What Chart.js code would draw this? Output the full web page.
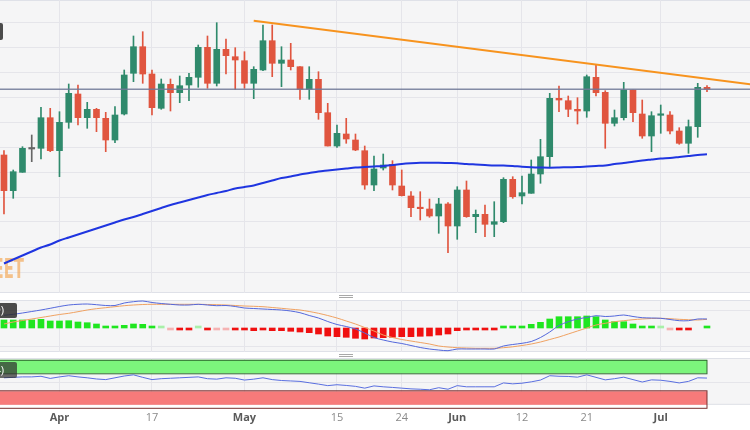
<!DOCTYPE html>
<html>
<head>
<meta charset="utf-8">
<script src="https://cdn.jsdelivr.net/npm/chart.js@4.4.0/dist/chart.umd.min.js"></script>
<style>
  html, body { margin: 0; padding: 0; background: #fff; }
  #wrap { position: relative; width: 750px; height: 430px; overflow: hidden; }
  .pane { position: absolute; left: 0; width: 750px; }
  .grip { position: absolute; left: 339px; width: 14px; height: 1px; background: #a8a8a8; }
</style>
</head>
<body>
<div id="wrap">
  <div class="pane" style="top:0"><canvas id="main" width="750" height="293"></canvas></div>
  <div class="grip" style="top:295px"></div><div class="grip" style="top:297px"></div>
  <div class="pane" style="top:300px"><canvas id="macd" width="750" height="52"></canvas></div>
  <div class="grip" style="top:354px"></div><div class="grip" style="top:356px"></div>
  <div class="pane" style="top:358px"><canvas id="rsi" width="750" height="72"></canvas></div>
</div>
<script>
// jours de cotation (mar 24 -> jul 10)
const dates = [
  "03-24","03-27","03-28","03-29","03-30","03-31",
  "04-03","04-04","04-05","04-06","04-07","04-10","04-11","04-12","04-13","04-14",
  "04-17","04-18","04-19","04-20","04-21","04-24","04-25","04-26","04-27","04-28",
  "05-01","05-02","05-03","05-04","05-05","05-08","05-09","05-10","05-11","05-12",
  "05-15","05-16","05-17","05-18","05-19","05-22","05-23","05-24","05-25","05-26",
  "05-29","05-30","05-31",
  "06-01","06-02","06-05","06-06","06-07","06-08","06-09","06-12","06-13","06-14",
  "06-15","06-16","06-19","06-20","06-21","06-22","06-23","06-26","06-27","06-28",
  "06-29","06-30",
  "07-03","07-04","07-05","07-06","07-07","07-10"
];

// ticks de l'axe x (index dans dates)
const tickIdx  = [6, 16, 26, 36, 43, 49, 56, 63, 71];
const tickText = ["Apr", "17", "May", "15", "24", "Jun", "12", "21", "Jul"];

// bougies (unités de prix)
const open = [142,106.3,124.7,148,148.7,179.3,146.3,174.7,203,179.3,
  187.7,178.7,157,183,223.7,250.3,223,188.7,212.7,204.3,
  212,219.7,249.7,213.7,247.7,240.3,236.3,213.7,227,256.3,
  233.7,237,230.3,207.7,217.7,184.3,151,163,157,146.3,
  112,129,132.7,111,101,89,88,81,93,71,
  107,80.3,82.7,72.7,75.3,117.7,101,103.7,123,140.3,
  198.7,196.3,187.7,186,219.7,204.7,173.7,179.3,207,183,
  161,181.7,182,166,153.7,170.3,209.7];
const high = [146.3,127,150.3,162,189.7,188.7,185.3,213,212,194.7,
  188.7,184.7,190.3,227,261,265.3,227,218,218,221,
  223.7,252,261,274.3,258,249.3,245.3,230.3,272,272,
  250.3,253.7,230.3,230.3,225.3,193.7,172,178.7,163,151,
  141,143,136.3,127,105.3,105.3,98,98.7,94.3,110.3,
  116,87,92,95.3,119.3,120.3,121,137,157.7,203.7,
  211,201,199.3,222,232,206.3,187,214.7,207,197,
  185.3,192,185.3,169.3,177,213.7,211.3];
const low = [83,98.7,124.7,135.3,138,145.3,120.3,168.7,172,168.7,
  165.3,145.3,154.3,182,215.3,213.7,182,187.7,186,194.3,
  196.3,209.7,208.7,211,223,207.7,208.7,198.3,226.3,220.3,
  210.3,227,197.7,197.7,177.7,151,149.7,153.7,146.3,107.7,
  106.3,127,107,101,80.3,77,79.7,63.7,44.3,57.7,
  79.7,64.3,60.3,60.3,74.3,98.7,93,103.7,113.7,130.3,
  185.3,180.3,173,179.7,201,148.7,171,177,175.3,158.7,
  145.3,163.7,163,152.7,143.7,159.7,205.3];
const close = [106.3,125.3,148.7,148,179.3,146.3,174.7,203.7,179.3,187.7,
  179.3,157,182,222,250.3,223,189.3,213,204.3,211.3,
  219.7,249.7,213.7,247.7,241.3,237,213.7,227.7,256.3,233.7,
  237,230.3,207.7,217.7,184.3,151,163.7,158,147,112,
  128,132,112,101.3,89.3,88.3,81,93,71,107,
  80.3,82.7,72.7,75.3,117.7,100.3,104.3,123,140.3,198.7,
  197,187.7,186,220.3,204.3,173.7,179.3,207,184.3,161,
  181.3,182.3,166,153.7,170.3,209.7,207.7];

// moyenne mobile (ligne bleue)
const ma = [33.5,37.5,41.5,45.5,49.5,52.5,56.5,59.5,62.5,65.5,
  68.5,71.5,74.5,77.5,80,83,86,89,92,94.5,
  97,99.5,102,104,106,108.5,110,111.5,114,116.5,
  119,120.5,122.5,124,125.5,126.5,127.5,128.5,129.5,130,
  130.5,131,132,133,133.7,134.2,134.3,134.3,134,133.7,
  133,132.5,132,131.5,131.5,131,130.3,129.8,129.5,129.3,
  129.5,129.8,130,130.5,131,131.5,133,134,135.3,136.5,
  137.5,138.5,139,140,141,142,142.7];

// ligne de tendance (orange)
const trendX = [27, 81];
const trendY = [276.3, 212.3];

// MACD
const macdLine = [12.7,13.7,15,16.5,18,19.7,21.5,23,23.7,24,
  23.3,22.5,22.5,25,26.3,27,25.5,24.5,23.7,23,
  23,23.7,23,22.3,22.5,21.5,20,19.5,19,18.5,
  18,17,15.3,12.5,10,6.5,3.5,1.5,-1,-5,
  -9.5,-12,-14,-15.5,-17.5,-19.5,-21,-22,-22.7,-21,
  -21,-21,-21,-21,-18,-16.5,-15.3,-13.5,-9.5,-4,
  2.5,6.3,9,10.5,12.3,11.5,12,13,11.5,10.3,
  10,9.7,8.5,7.3,7.3,9,9];
const signalLine = [4,6,7.5,9,10.5,12,13.5,14.7,16.3,18,
  19.3,20.3,21.3,22.3,23,23.5,23.7,23.7,23.7,23.7,
  23.7,23.7,23.5,23.3,23,22.5,22,21.7,21.3,20.5,
  19.7,18.8,18,16.5,14.7,12.5,10,7,4,0.5,
  -3,-7,-9.5,-11.5,-13,-14.5,-16,-18,-19,-19.7,
  -20,-20.3,-20.3,-20.3,-19.7,-18.8,-17.5,-16,-14,-11.5,
  -9,-6,-3,0,3,4.7,6.3,7.3,8.3,9,
  9.5,9.7,9.3,8.7,8.3,8,8.7];
const histo = [8,8,8,8,8.7,7,7,7.3,6,5.3,
  4,2,2,2.7,4,3.7,1.3,0.4,-0.3,-0.7,
  -0.7,0.3,-0.7,-0.3,-0.3,-0.7,-2,-2.7,-2,-2.7,
  -2.7,-3.3,-4,-4.7,-6,-8,-8.7,-9.3,-10.3,-11,
  -10,-9.7,-9.3,-8.7,-8.7,-8.3,-8,-7,-6,-2.7,
  -2,-1.3,-1.3,-1,0.7,0.7,2,3.7,5.7,9,
  11.3,11.3,11.3,12,11.3,8,6.3,6.3,4,1.3,
  0.7,0.3,-0.3,-1,-1,0,0.7];

// RSI
const rsi = [60,61,62,62,63.4,58.6,62,64.6,62,60,
  57.4,56,60,64,66.6,61,56,58,59,60,
  61,62,58,57,60,59,55,57,60,56,
  54,53,52,49,46,42.6,44.6,43,41,37,
  42,40,38.6,37,35.4,34.6,33.4,38,34.6,42.6,
  40,40,40,40,48.6,46.6,48,51,55,64.6,
  63.4,63,61.4,66.6,61,55.4,58,61.4,56,50.6,
  55.4,54.6,52,48.6,52,60,59.4];
const rsiBands = [30, 70];

// couleurs
const UP = "#2f8a6c", DOWN = "#e0553f", FLAT = "#666666";
const PANEL_BG = "#f5f5f6", GRID = "#e5e5ea";
const X_MIN = -0.43, X_MAX = 80.65;

Chart.defaults.font.family = "'Open Sans', Roboto, sans-serif";

const candleColors = open.map((o, i) => close[i] > o ? UP : (close[i] < o ? DOWN : FLAT));

function xAxis(showTicks) {
    return {
        type: "linear", min: X_MIN, max: X_MAX, offset: false,
        afterBuildTicks: s => { s.ticks = tickIdx.map(v => ({ value: v })); },
        grid: { color: GRID, drawTicks: false, offset: false },
        border: { display: false },
        ticks: {
            display: showTicks, padding: 6, autoSkip: false, maxRotation: 0,
            callback: v => tickText[tickIdx.indexOf(v)],
            color: c => /[a-z]/i.test(tickText[c.index]) ? "#5a5a5a" : "#8a8a8a",
            font: c => ({ size: 11, weight: /[a-z]/i.test(tickText[c.index]) ? "bold" : "normal" })
        }
    };
}

function yAxis(min, max, gridVals) {
    return {
        min: min, max: max,
        afterBuildTicks: s => { s.ticks = gridVals.map(v => ({ value: v })); },
        ticks: { display: false },
        grid: { color: GRID, drawTicks: false },
        border: { display: false }
    };
}

// fond gris des panneaux + bordures
const panelBg = {
    id: "panelBg",
    beforeDraw(chart) {
        const { ctx, chartArea: a } = chart;
        ctx.save();
        ctx.fillStyle = PANEL_BG;
        ctx.fillRect(a.left, a.top, a.right - a.left, a.bottom - a.top);
        ctx.strokeStyle = "#dfe1e8";
        ctx.lineWidth = 1;
        ctx.beginPath();
        ctx.moveTo(a.left, a.top + 0.5); ctx.lineTo(a.right, a.top + 0.5);
        ctx.moveTo(a.left, a.bottom - 0.5); ctx.lineTo(a.right, a.bottom - 0.5);
        ctx.stroke();
        ctx.restore();
    }
};

// petite étiquette sombre (coupée à gauche)
function labelBox(y, h, text, alpha) {
    return {
        id: "labelBox",
        afterDraw(chart) {
            const ctx = chart.ctx;
            ctx.save();
            ctx.fillStyle = "rgba(45,45,45," + alpha + ")";
            ctx.beginPath();
            ctx.roundRect(-90, y, text ? 107 : 93, h, 2);
            ctx.fill();
            if (text) {
                ctx.fillStyle = "#ffffff";
                ctx.font = "11px 'Open Sans', sans-serif";
                ctx.textAlign = "right";
                ctx.textBaseline = "middle";
                ctx.fillText(text, 4, y + h / 2 + 0.5);
            }
            ctx.restore();
        }
    };
}

const mainExtras = {
    id: "mainExtras",
    beforeDatasetsDraw(chart) {
        // filigrane
        const ctx = chart.ctx;
        ctx.save();
        ctx.fillStyle = "rgba(243,165,80,0.65)";
        ctx.font = "900 27px 'DejaVu Sans', sans-serif";
        ctx.textBaseline = "alphabetic";
        const w = ctx.measureText("FXSTREET").width;
        ctx.translate(24, 278);
        ctx.scale(0.55, 1);
        ctx.fillText("FXSTREET", -w, 0);
        ctx.restore();
    },
    afterDatasetsDraw(chart) {
        // ligne du dernier prix
        const { ctx, chartArea: a, scales } = chart;
        const y = scales.y.getPixelForValue(close[close.length - 1]);
        ctx.save();
        ctx.strokeStyle = "rgba(110,120,150,0.85)";
        ctx.lineWidth = 1.5;
        ctx.beginPath();
        ctx.moveTo(a.left, y); ctx.lineTo(a.right, y);
        ctx.stroke();
        ctx.restore();
    }
};

new Chart(document.getElementById("main"), {
    type: "bar",
    data: {
        datasets: [
            {
                type: "line", label: "Trend", order: 1,
                data: trendX.map((x, i) => ({ x: x, y: trendY[i] })),
                borderColor: "#f7931e", borderWidth: 2, pointRadius: 0
            },
            {
                type: "line", label: "SMA", order: 2,
                data: ma.map((v, i) => ({ x: i, y: v })),
                borderColor: "#1f35e0", borderWidth: 2, pointRadius: 0, tension: 0.3
            },
            {
                label: "Body", order: 3, grouped: false,
                data: open.map((o, i) => ({ x: i, y: [Math.min(o, close[i]), Math.max(o, close[i])] })),
                backgroundColor: candleColors, barThickness: 6, minBarLength: 1.5, borderWidth: 0
            },
            {
                label: "Wick", order: 4, grouped: false,
                data: low.map((l, i) => ({ x: i, y: [l, high[i]] })),
                backgroundColor: candleColors, barThickness: 1, borderWidth: 0
            }
        ]
    },
    options: {
        responsive: false, animation: false,
        plugins: { legend: { display: false }, tooltip: { enabled: false } },
        scales: {
            x: xAxis(false),
            y: yAxis(4, 297, [25, 50, 75, 100, 125, 150, 175, 200, 225, 250, 275])
        }
    },
    plugins: [panelBg, mainExtras, labelBox(23, 17, "", 0.85)]
});

const histColors = histo.map(v => {
    if (v === 0) return "rgba(0,0,0,0)";
    if (v > 0) return Math.abs(v) < 0.5 ? "#a8f0a8" : "#1fe61f";
    return Math.abs(v) < 0.5 ? "#f5b3b3" : "#f01010";
});

new Chart(document.getElementById("macd"), {
    type: "bar",
    data: {
        datasets: [
            {
                type: "line", label: "MACD", order: 1,
                data: macdLine.map((v, i) => ({ x: i, y: v })),
                borderColor: "#5468dc", borderWidth: 1, pointRadius: 0, tension: 0.3
            },
            {
                type: "line", label: "Signal", order: 2,
                data: signalLine.map((v, i) => ({ x: i, y: v })),
                borderColor: "#f0a262", borderWidth: 1, pointRadius: 0, tension: 0.3
            },
            {
                label: "Histogram", order: 3, grouped: false,
                data: histo.map((v, i) => ({ x: i, y: v })),
                backgroundColor: histColors, barThickness: 6, minBarLength: 2, borderWidth: 0
            }
        ]
    },
    options: {
        responsive: false, animation: false,
        plugins: { legend: { display: false }, tooltip: { enabled: false } },
        scales: {
            x: xAxis(false),
            y: yAxis(-24, 28, [-18, 18])
        }
    },
    plugins: [panelBg, labelBox(3, 15, "MACD(12,26,9)", 0.85)]
});

const rsiZones = {
    id: "rsiZones",
    beforeDatasetsDraw(chart) {
        const { ctx, scales } = chart;
        const x0 = scales.x.left - 2;
        const x1 = scales.x.getPixelForValue(rsi.length - 1);
        const yTop = scales.y.getPixelForValue(100);
        const yHi = scales.y.getPixelForValue(rsiBands[1]);
        const yLo = scales.y.getPixelForValue(rsiBands[0]);
        const yBot = scales.y.getPixelForValue(0);
        ctx.save();
        ctx.lineWidth = 1;
        ctx.fillStyle = "#7cf57c";
        ctx.fillRect(x0, yTop, x1 - x0, yHi - yTop);
        ctx.strokeStyle = "#2f6b2f";
        ctx.strokeRect(x0, yTop + 0.5, x1 - x0, yHi - yTop);
        ctx.fillStyle = "#f77a7a";
        ctx.fillRect(x0, yLo, x1 - x0, yBot - yLo);
        ctx.strokeStyle = "#7a2f2f";
        ctx.strokeRect(x0, yLo - 0.5, x1 - x0, yBot - yLo + 4);
        ctx.restore();
    }
};

new Chart(document.getElementById("rsi"), {
    type: "line",
    data: {
        datasets: [{
            label: "RSI",
            data: rsi.map((v, i) => ({ x: i, y: v })),
            borderColor: "#5a6fe0", borderWidth: 1, pointRadius: 0
        }]
    },
    options: {
        responsive: false, animation: false,
        plugins: { legend: { display: false }, tooltip: { enabled: false } },
        scales: {
            x: xAxis(true),
            y: yAxis(0, 104, [50])
        }
    },
    plugins: [panelBg, rsiZones, labelBox(4, 16, "RSI(14)", 0.7)]
});
</script>
</body>
</html>
